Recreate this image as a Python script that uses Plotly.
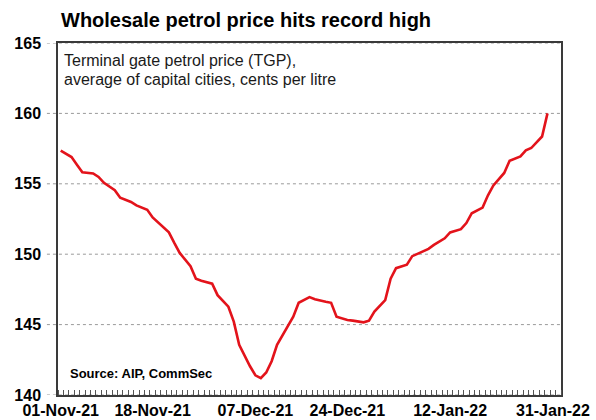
import plotly.graph_objects as go

# Terminal gate petrol price (TGP), average of capital cities, c/L
dates = [
    "2021-11-01", "2021-11-03", "2021-11-04", "2021-11-05", "2021-11-07", "2021-11-08",
    "2021-11-09", "2021-11-11", "2021-11-12", "2021-11-14", "2021-11-15", "2021-11-17",
    "2021-11-18", "2021-11-19", "2021-11-21", "2021-11-22", "2021-11-23", "2021-11-25",
    "2021-11-26", "2021-11-27", "2021-11-29", "2021-11-30", "2021-12-02", "2021-12-03",
    "2021-12-04", "2021-12-06", "2021-12-07", "2021-12-08", "2021-12-09", "2021-12-10",
    "2021-12-11", "2021-12-14", "2021-12-15", "2021-12-17", "2021-12-18", "2021-12-20",
    "2021-12-21", "2021-12-22", "2021-12-24", "2021-12-25", "2021-12-27", "2021-12-28",
    "2021-12-29", "2021-12-31", "2022-01-01", "2022-01-02", "2022-01-04", "2022-01-05",
    "2022-01-07", "2022-01-08", "2022-01-09", "2022-01-11", "2022-01-12", "2022-01-14",
    "2022-01-15", "2022-01-16", "2022-01-18", "2022-01-19", "2022-01-20", "2022-01-22",
    "2022-01-23", "2022-01-25", "2022-01-26", "2022-01-27", "2022-01-29", "2022-01-30",
]
tgp = [
    157.35, 156.90, 156.36, 155.82, 155.73, 155.49,
    155.07, 154.55, 154.01, 153.71, 153.47, 153.15,
    152.61, 152.25, 151.55, 150.80, 150.09, 149.15,
    148.26, 148.12, 147.91, 147.09, 146.27, 145.21,
    143.57, 142.04, 141.40, 141.20, 141.60, 142.40,
    143.57, 145.56, 146.55, 146.95, 146.80, 146.62,
    146.55, 145.56, 145.33, 145.28, 145.16, 145.28,
    145.92, 146.74, 148.26, 149.01, 149.25, 149.86,
    150.19, 150.38, 150.66, 151.13, 151.55, 151.78,
    152.21, 152.91, 153.31, 154.18, 154.88, 155.77,
    156.64, 156.95, 157.37, 157.54, 158.36, 160.00,
]

x_tick_dates = ["2021-11-01", "2021-11-18", "2021-12-07", "2021-12-24", "2022-01-12", "2022-01-31"]
x_tick_text = ["01-Nov-21", "18-Nov-21", "07-Dec-21", "24-Dec-21", "12-Jan-22", "31-Jan-22"]
y_ticks = [140, 145, 150, 155, 160, 165]

subtitle_lines = ["Terminal gate petrol price (TGP),", "average of capital cities, cents per litre"]

FONT = "Liberation Sans, Arial, sans-serif"

fig = go.Figure()
fig.add_trace(go.Scatter(
    x=dates, y=tgp, mode="lines",
    line=dict(color="#e3131b", width=2.6),
    hoverinfo="x+y", showlegend=False,
))

# dotted horizontal guides that run out to the tick labels
for v in y_ticks:
    fig.add_shape(type="line", xref="paper", yref="y", x0=-0.022, x1=1, y0=v, y1=v,
                  line=dict(color="#9a9a9a", width=1, dash="dot"), layer="below")

# note box text, one annotation per line for tight leading
notes = []
for i, line in enumerate(subtitle_lines):
    notes.append(dict(text=line, xref="paper", yref="paper",
                      x=0.008, y=0.949 - i * 0.052, xanchor="left", yanchor="middle",
                      align="left", showarrow=False,
                      font=dict(size=16, family=FONT, color="#1a1a1a")))
notes.append(dict(text="Source: AIP, CommSec",
                  xref="paper", yref="paper", x=0.02, y=0.062, xanchor="left", yanchor="middle",
                  showarrow=False, font=dict(size=13, family=FONT, color="#000", weight="bold")))

fig.update_layout(
    width=596, height=420,
    margin=dict(l=58, r=35, t=43, b=25, autoexpand=False),
    paper_bgcolor="white", plot_bgcolor="white",
    font=dict(family=FONT, color="#000"),
    title=dict(text="Wholesale petrol price hits record high",
               font=dict(size=20, family=FONT, color="#000", weight="bold"),
               x=61 / 596, xanchor="left", xref="container",
               y=1 - 20 / 420, yanchor="middle", yref="container"),
    annotations=notes,
)

fig.update_xaxes(
    type="date", automargin=False,
    range=["2021-10-31 12:00", "2022-02-01 12:00"],
    tickmode="array", tickvals=x_tick_dates, ticktext=x_tick_text,
    ticks="", showgrid=False,
    tickfont=dict(size=16, family=FONT, color="#000", weight="bold"),
    showline=True, linecolor="#3a3a3a", linewidth=1.5, mirror=True,
    minor=dict(ticks="inside", tickmode="linear", tick0="2021-10-31 12:00",
               dtick=86400000, ticklen=5, tickcolor="#555", tickwidth=1, showgrid=False),
)
fig.update_yaxes(
    range=[140, 165], automargin=False,
    tickmode="array", tickvals=y_ticks,
    ticks="outside", ticklen=12, tickcolor="rgba(0,0,0,0)",
    showgrid=False, zeroline=False,
    tickfont=dict(size=16, family=FONT, color="#000", weight="bold"),
    tickformat="d",
    showline=True, linecolor="#3a3a3a", linewidth=1.5, mirror=True,
)

fig.write_html("out.html")
